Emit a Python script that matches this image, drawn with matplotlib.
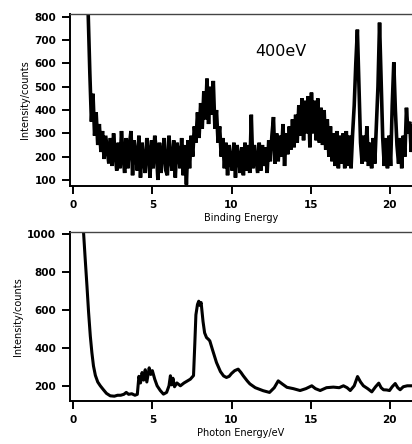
import numpy as np
import matplotlib
matplotlib.use("Agg")
import matplotlib.pyplot as plt

# top spectrum: binding energy grid (start 0.95 eV, step 0.1 eV) and counts
# one row per eV, rows start at 0.95, 1.95, 2.95 ...
be_start, be_step = 0.95, 0.1
counts_400 = [
    805, 560, 350, 470, 290, 390, 250, 340, 220, 310,
    190, 290, 230, 170, 280, 160, 300, 210, 140, 260,
    150, 310, 200, 130, 280, 150, 250, 310, 120, 270,
    210, 140, 290, 110, 260, 180, 130, 280, 220, 110,
    270, 150, 290, 230, 100, 260, 130, 210, 280, 140,
    120, 290, 190, 140, 270, 110, 260, 220, 150, 280,
    120, 250, 80, 270, 150, 290, 200, 330, 260, 390,
    280, 430, 320, 480, 360, 535, 340, 500, 380, 525,
    320, 400, 260, 330, 200, 280, 150, 260, 120, 250,
    180, 140, 260, 110, 250, 200, 130, 240, 120, 260,
    140, 250, 130, 380, 150, 250, 190, 130, 260, 140,
    250, 160, 240, 130, 270, 180, 290, 370, 170, 300,
    180, 290, 200, 340, 160, 300, 210, 330, 230, 360,
    240, 380, 260, 420, 290, 450, 270, 440, 300, 460,
    240, 475, 300, 440, 270, 450, 260, 410, 250, 400,
    230, 360, 200, 330, 180, 300, 160, 310, 150, 290,
    170, 300, 150, 310, 160, 290, 150, 300, 420, 600,
    745, 500, 260, 170, 290, 180, 330, 160, 260, 150,
    280, 170, 330, 500, 775, 520, 280, 160, 280, 150,
    290, 160, 420, 605, 400, 250, 170, 280, 150, 290,
    200, 410, 300, 350, 220, 330,
]
binding_energy = be_start + be_step * np.arange(len(counts_400))

# bottom spectrum: photon energy vs counts
photon_energy = [
    0.65, 0.75, 0.87, 0.97, 1.08, 1.18, 1.28, 1.4, 1.55, 1.71, 1.9, 2.1, 2.34, 2.6,
    2.8, 3.0, 3.2, 3.35, 3.5, 3.7, 3.9, 4.05, 4.15, 4.25, 4.35, 4.45, 4.55, 4.65,
    4.8, 4.9, 5.0, 5.15, 5.3, 5.5, 5.7, 5.9, 6.05, 6.14, 6.22, 6.3, 6.4, 6.55,
    6.77, 7.0, 7.2, 7.4, 7.6, 7.68, 7.75, 7.85, 7.93, 8.0, 8.08, 8.2, 8.3, 8.42,
    8.55, 8.63, 8.8, 9.05, 9.3, 9.5, 9.68, 9.85, 10.0, 10.2, 10.42, 10.6, 10.74,
    11.0, 11.16, 11.5, 12.0, 12.4, 12.7, 12.95, 13.2, 13.5, 13.9, 14.33, 14.7,
    15.07, 15.3, 15.6, 16.0, 16.43, 16.8, 17.07, 17.3, 17.5, 17.75, 17.96, 18.15,
    18.33, 18.6, 18.86, 19.1, 19.3, 19.45, 19.6, 19.8, 19.98, 20.15, 20.34, 20.5,
    20.65, 20.85, 21.1, 21.4,
]
photon_counts = [
    1015, 880, 726, 590, 463, 375, 305, 255, 220, 200, 180, 160, 147, 145,
    150, 150, 155, 165, 155, 158, 150, 155, 250, 215, 270, 230, 285, 220,
    295, 260, 280, 235, 200, 175, 156, 165, 200, 253, 205, 240, 195, 215,
    200, 215, 225, 235, 254, 420, 575, 630, 647, 625, 640, 540, 480, 455,
    445, 437, 390, 323, 275, 252, 244, 250, 265, 280, 288, 270, 253,
    225, 210, 190, 174, 165, 190, 226, 210, 192, 185, 175, 185,
    200, 185, 175, 190, 193, 190, 200, 190, 175, 200, 249, 220,
    200, 185, 168, 195, 214, 190, 179, 178, 175, 195, 212, 190,
    179, 195, 200, 200,
]

x_ticks = [0, 5, 10, 15, 20]
plt.rcParams['font.family'] = ['DejaVu Sans']

fig = plt.figure(figsize=(4.12, 4.44), dpi=100)
ax1 = fig.add_axes([0.170, 0.581, 0.830, 0.388])
ax2 = fig.add_axes([0.170, 0.097, 0.830, 0.381])


def style(ax, yticks):
    ax.spines['right'].set_visible(False)
    ax.spines['top'].set_linewidth(1.0)
    ax.spines['top'].set_color('#444444')
    for s in ('left', 'bottom'):
        ax.spines[s].set_linewidth(1.4)
    ax.set_xlim(-0.2, 21.4)
    ax.set_xticks(x_ticks)
    ax.set_yticks(yticks)
    ax.tick_params(direction='out', length=6, width=1.4, pad=4,
                   labelsize=7.5, top=False, right=False)
    for lab in ax.get_xticklabels() + ax.get_yticklabels():
        lab.set_fontweight('bold')


ax1.plot(binding_energy, counts_400, color='black', lw=2.6, solid_joinstyle='miter')
ax1.set_ylim(74, 813)
style(ax1, [100, 200, 300, 400, 500, 600, 700, 800])
ax1.set_xlabel('Binding Energy', fontsize=7, labelpad=2)
ax1.set_ylabel('Intensity/counts', fontsize=7, labelpad=3)
ax1.text(11.5, 650, '400eV', fontsize=11.5, va='center')

ax2.plot(photon_energy, photon_counts, color='black', lw=2.2)
ax2.set_ylim(120, 1014)
style(ax2, [200, 400, 600, 800, 1000])
ax2.set_xlabel('Photon Energy/eV', fontsize=7, labelpad=2)
ax2.set_ylabel('Intensity/counts', fontsize=7, labelpad=3)

fig.savefig('out.png', dpi=100)
